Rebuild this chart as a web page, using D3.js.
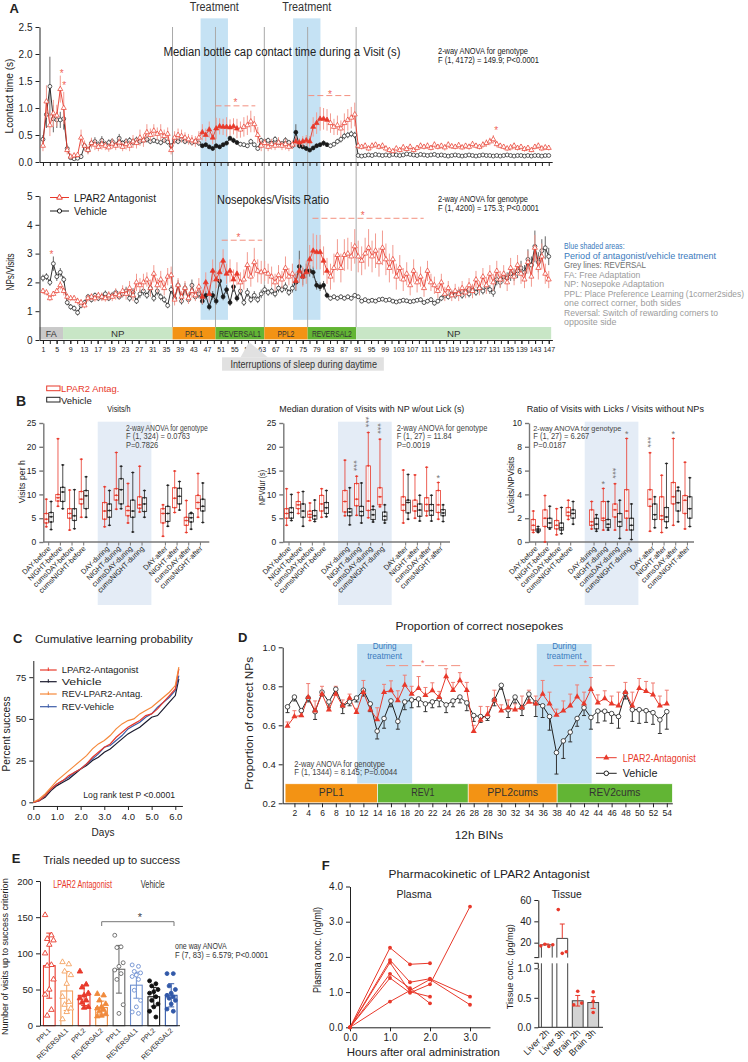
<!DOCTYPE html>
<html><head><meta charset="utf-8">
<script src="https://cdn.jsdelivr.net/npm/d3@7/dist/d3.min.js"></script>
<style>html,body{margin:0;padding:0;background:#fff}svg{display:block}</style>
</head><body>
<script>
// ================= DATA =================
// ---- Panel A ----
const aTickLabels=["1","5","9","13","17","19","23","27","31","35","39","43","47","51","55","59","63","67","71","75","79","83","87","91","95","99","103","107","111","115","119","123","127","131","135","139","143","147"];
const yTicksA1=[0,0.5,1,1.5,2,2.5];
const yTicksA2=[0,1,2,3,4,5];
const treatBands=[[46.5,54.4],[73.2,81.1]];
const filledA=[[46.5,57.5],[73.2,83]];
const reversalLines=[38.4,50.8,64.9,77.4,91.4];
const phaseNames=["FA","NP","PPL1","REVERSAL1","PPL2","REVERSAL2","NP"];
const phaseStart=[0,6.8,38.4,50.8,64.9,77.4,91.4];
const phaseEnd=[6.8,38.4,50.8,64.9,77.4,91.4,147.7];
// contact time (s)
const cR=[0.30,1.12,0.68,0.90,0.86,1.35,1.00,0.22,0.10,0.12,
 0.13,0.45,0.30,0.22,0.35,0.32,0.28,0.33,0.30,0.27,
 0.34,0.30,0.36,0.28,0.33,0.30,0.38,0.35,0.45,0.40,
 0.55,0.50,0.58,0.52,0.55,0.48,0.52,0.22,0.45,0.50,
 0.48,0.45,0.42,0.40,0.38,0.45,0.55,0.50,0.60,0.45,
 0.62,0.66,0.65,0.65,0.64,0.66,0.62,0.60,0.65,0.68,
 0.75,0.70,0.50,0.30,0.35,0.28,0.33,0.30,0.36,0.30,
 0.33,0.28,0.32,0.38,0.36,0.38,0.40,0.38,0.65,0.72,
 0.80,0.80,0.78,0.72,0.65,0.68,0.62,0.72,0.78,0.82,
 0.88,0.30,0.28,0.30,0.25,0.30,0.32,0.28,0.30,0.25,
 0.22,0.20,0.25,0.22,0.27,0.24,0.28,0.22,0.26,0.30,
 0.28,0.30,0.26,0.32,0.28,0.30,0.27,0.32,0.29,0.28,
 0.31,0.27,0.30,0.28,0.33,0.30,0.28,0.32,0.35,0.38,
 0.42,0.33,0.30,0.28,0.25,0.27,0.30,0.26,0.28,0.24,
 0.26,0.22,0.28,0.30,0.25,0.27,0.26];
const cB=[0.42,0.88,1.40,0.80,0.78,0.78,0.80,0.25,0.08,0.06,
 0.07,0.10,0.30,0.22,0.35,0.38,0.32,0.40,0.33,0.36,
 0.38,0.32,0.44,0.35,0.38,0.40,0.36,0.41,0.38,0.40,
 0.42,0.38,0.40,0.38,0.36,0.40,0.37,0.30,0.40,0.38,
 0.42,0.38,0.40,0.36,0.38,0.35,0.30,0.32,0.28,0.25,
 0.30,0.28,0.32,0.35,0.44,0.40,0.36,0.33,0.32,0.30,
 0.38,0.32,0.25,0.40,0.38,0.40,0.35,0.42,0.36,0.34,
 0.40,0.36,0.30,0.55,0.30,0.28,0.25,0.22,0.26,0.30,
 0.32,0.35,0.32,0.30,0.33,0.38,0.42,0.48,0.50,0.52,
 0.50,0.12,0.11,0.12,0.13,0.12,0.14,0.13,0.12,0.13,
 0.12,0.14,0.13,0.12,0.13,0.15,0.14,0.13,0.12,0.14,
 0.13,0.12,0.13,0.14,0.12,0.13,0.12,0.11,0.12,0.13,
 0.12,0.11,0.12,0.13,0.12,0.11,0.12,0.13,0.12,0.12,
 0.11,0.12,0.11,0.12,0.13,0.12,0.11,0.12,0.12,0.11,
 0.12,0.11,0.12,0.12,0.11,0.12,0.12];
const eCR=[0.10,0.30,0.20,0.25,0.20,0.25,0.30,0.08,0.04,0.05,
 0.05,0.15,0.10,0.08,0.10,0.10,0.08,0.10,0.08,0.08,
 0.10,0.08,0.10,0.08,0.10,0.10,0.12,0.10,0.15,0.12,
 0.15,0.12,0.12,0.12,0.15,0.12,0.12,0.08,0.12,0.12,
 0.12,0.10,0.10,0.10,0.10,0.12,0.15,0.12,0.15,0.12,
 0.20,0.15,0.15,0.18,0.15,0.15,0.18,0.15,0.18,0.18,
 0.20,0.15,0.15,0.10,0.08,0.08,0.10,0.08,0.10,0.08,
 0.10,0.08,0.08,0.10,0.08,0.10,0.10,0.10,0.18,0.20,
 0.22,0.20,0.20,0.18,0.15,0.18,0.15,0.18,0.20,0.20,
 0.22,0.06,0.05,0.06,0.05,0.06,0.05,0.05,0.06,0.05,
 0.05,0.04,0.05,0.05,0.06,0.05,0.06,0.05,0.05,0.06,
 0.05,0.06,0.05,0.06,0.05,0.05,0.06,0.06,0.05,0.05,
 0.06,0.05,0.05,0.06,0.06,0.05,0.05,0.06,0.07,0.07,
 0.08,0.06,0.05,0.05,0.05,0.06,0.06,0.05,0.05,0.05,
 0.05,0.04,0.05,0.06,0.05,0.05,0.05];
const eCB=[0.08,0.25,0.55,0.25,0.15,0.15,0.20,0.05,0.02,0.02,
 0.02,0.04,0.08,0.06,0.08,0.08,0.06,0.08,0.06,0.06,
 0.06,0.05,0.08,0.05,0.06,0.06,0.05,0.06,0.05,0.05,
 0.06,0.05,0.05,0.05,0.05,0.05,0.05,0.05,0.06,0.05,
 0.05,0.05,0.05,0.05,0.05,0.05,0.04,0.04,0.04,0.04,
 0.04,0.04,0.04,0.04,0.05,0.05,0.04,0.04,0.04,0.04,
 0.05,0.04,0.04,0.05,0.05,0.05,0.05,0.06,0.05,0.05,
 0.06,0.05,0.05,0.15,0.05,0.04,0.04,0.03,0.04,0.04,
 0.04,0.05,0.04,0.04,0.04,0.05,0.06,0.06,0.06,0.06,
 0.06,0.02,0.02,0.02,0.02,0.02,0.02,0.02,0.02,0.02,
 0.02,0.02,0.02,0.02,0.02,0.03,0.02,0.02,0.02,0.02,
 0.02,0.02,0.02,0.02,0.02,0.02,0.02,0.02,0.02,0.02,
 0.02,0.02,0.02,0.02,0.02,0.02,0.02,0.02,0.02,0.02,
 0.02,0.02,0.02,0.02,0.02,0.02,0.02,0.02,0.02,0.02,
 0.02,0.02,0.02,0.02,0.02,0.02,0.02];
// nosepokes/visits ratio
const nR=[1.70,1.65,1.45,1.60,1.70,1.90,1.70,1.50,1.45,1.45,
 1.35,1.30,1.20,1.45,1.50,1.45,1.55,1.50,1.45,1.55,
 1.50,1.60,1.55,1.70,1.60,1.80,1.55,2.00,1.90,2.00,
 2.10,1.80,2.30,1.90,2.10,1.80,2.20,2.25,1.40,1.90,
 1.50,1.80,1.45,1.70,1.55,1.85,1.50,2.00,1.60,2.40,
 2.10,2.35,2.75,2.30,2.40,2.10,2.30,2.00,2.10,2.60,
 2.20,2.70,2.40,2.35,2.40,2.30,2.20,2.00,2.25,2.10,
 2.50,2.20,2.30,2.05,2.40,2.20,2.35,2.80,3.10,3.05,
 3.05,2.75,2.40,2.20,2.50,2.95,2.50,2.95,3.00,2.90,
 3.25,2.90,2.75,3.00,3.20,2.90,3.10,2.70,3.20,2.80,
 2.50,2.80,2.20,2.50,2.10,2.30,1.90,2.40,2.00,2.20,
 1.80,2.40,2.00,1.90,1.70,2.00,1.60,1.80,1.55,1.70,
 1.60,1.80,1.65,1.90,1.70,2.10,1.80,2.20,1.90,2.30,
 2.00,2.40,2.10,2.30,2.00,2.50,2.20,2.60,2.30,2.10,
 2.70,2.20,3.20,2.50,2.90,2.30,2.10];
const nB=[2.15,2.20,2.00,2.65,2.20,2.35,2.10,1.30,1.15,1.10,
 0.95,1.20,1.30,1.50,1.40,1.55,1.45,1.50,1.60,1.45,
 1.55,1.65,1.50,1.60,1.70,1.45,1.65,1.35,1.60,1.70,
 1.55,1.80,1.45,1.70,1.50,1.40,1.20,1.75,1.45,1.90,
 1.35,1.80,1.40,1.90,1.50,1.60,1.35,1.55,1.15,1.55,
 1.35,2.05,1.50,1.75,1.30,1.85,1.45,1.70,1.30,1.65,
 1.40,1.55,1.40,1.60,1.75,1.65,1.70,1.60,1.80,1.75,
 1.85,1.65,1.80,2.00,2.55,2.20,2.40,2.40,2.35,1.90,
 1.85,1.90,1.55,1.45,1.50,1.45,1.50,1.45,1.50,1.45,
 1.55,1.50,1.35,1.40,1.35,1.38,1.35,1.40,1.42,1.38,
 1.40,1.35,1.32,1.35,1.38,1.36,1.33,1.35,1.38,1.40,
 1.30,1.35,1.40,1.28,1.35,1.45,1.55,1.50,1.60,1.55,
 1.65,1.55,1.70,1.60,1.75,1.65,1.80,1.70,1.85,1.75,
 1.65,2.10,2.00,2.20,2.15,2.30,2.25,2.40,2.50,2.35,
 2.80,2.60,3.25,2.70,3.10,3.20,2.90];
const eNR=[0.10,0.10,0.10,0.10,0.10,0.15,0.15,0.12,0.10,0.10,
 0.12,0.12,0.10,0.12,0.12,0.12,0.12,0.15,0.12,0.15,
 0.15,0.20,0.15,0.20,0.20,0.25,0.20,0.30,0.25,0.30,
 0.25,0.30,0.30,0.25,0.30,0.25,0.30,0.30,0.20,0.25,
 0.20,0.25,0.20,0.25,0.20,0.30,0.25,0.35,0.30,0.40,
 0.30,0.35,0.40,0.35,0.40,0.35,0.40,0.35,0.35,0.45,
 0.35,0.50,0.40,0.40,0.35,0.35,0.35,0.30,0.35,0.30,
 0.40,0.30,0.35,0.30,0.40,0.35,0.40,0.50,0.60,0.60,
 0.60,0.50,0.45,0.45,0.50,0.55,0.50,0.55,0.55,0.50,
 0.60,0.55,0.50,0.55,0.65,0.55,0.60,0.50,0.60,0.55,
 0.50,0.50,0.45,0.45,0.40,0.40,0.35,0.40,0.35,0.35,
 0.30,0.35,0.30,0.30,0.25,0.30,0.25,0.25,0.20,0.25,
 0.25,0.25,0.20,0.25,0.25,0.30,0.25,0.30,0.30,0.30,
 0.30,0.35,0.30,0.30,0.30,0.35,0.30,0.35,0.35,0.30,
 0.40,0.35,0.45,0.40,0.45,0.35,0.30];
const eNB=[0.12,0.12,0.12,0.25,0.15,0.15,0.12,0.10,0.10,0.10,
 0.10,0.10,0.10,0.10,0.10,0.10,0.10,0.12,0.12,0.10,
 0.12,0.12,0.10,0.12,0.15,0.12,0.15,0.10,0.15,0.15,
 0.12,0.20,0.12,0.15,0.12,0.12,0.10,0.15,0.12,0.18,
 0.12,0.18,0.12,0.20,0.12,0.15,0.12,0.15,0.12,0.15,
 0.12,0.20,0.12,0.15,0.12,0.18,0.12,0.15,0.12,0.15,
 0.12,0.15,0.12,0.15,0.15,0.12,0.12,0.12,0.15,0.12,
 0.15,0.12,0.15,0.30,0.55,0.30,0.25,0.20,0.20,0.15,
 0.15,0.15,0.10,0.08,0.08,0.08,0.08,0.08,0.08,0.08,
 0.08,0.08,0.07,0.07,0.07,0.07,0.07,0.07,0.07,0.07,
 0.07,0.07,0.07,0.07,0.07,0.07,0.07,0.07,0.07,0.07,
 0.07,0.07,0.08,0.08,0.08,0.10,0.10,0.10,0.12,0.12,
 0.12,0.12,0.12,0.12,0.15,0.12,0.15,0.12,0.15,0.15,
 0.15,0.20,0.18,0.20,0.20,0.25,0.20,0.25,0.25,0.25,
 0.35,0.30,0.55,0.35,0.40,0.40,0.30];
const sigA1=[[50.8,62.3,1.04],[77.6,90.1,1.23]];
const starsA1=[[56.6,1.14],[83.85,1.30],[6.4,1.68],[7.15,1.46],[131.8,0.63]];
const sigA2=[[52.6,64.3,3.465],[78.8,110.9,4.226]];
const starsA2=[[57.4,3.65],[93.3,4.41],[3.45,3.06]];
const aNotes=["Blue shaded areas:","Period of antagonist/vehicle treatment","Grey lines: REVERSAL","FA: Free Adaptation","NP: Nosepoke Adaptation","PPL: Place Preference Learning (1corner2sides)","one correct corner, both sides","Reversal: Switch of rewarding corners to","opposite side"];

// ---- Panel B ----
const bCats=["DAY-before","NIGHT-before","cumsDAY-before","cumsNIGHT-before","DAY-during","NIGHT-during","cumsDAY-during","cumsNIGHT-during","DAY-after","NIGHT-after","cumsDAY-after","cumsNIGHT-after"];
// [min,q1,median,q3,max]
const visitsRed=[[3.2,4,4.8,6,9],[7.5,8.6,9.3,10,21.7],[2.5,5,6,7,10.9],[5.2,8,9,10.6,17.4],[3.2,4.8,6.5,8.3,11.6],[6.9,8.8,9.8,11.2,18.8],[4,5.5,6.6,7.5,12.3],[6.3,7.1,7.8,9.5,15.9],[1.2,4,6,7,7.8],[6.2,7.2,9.2,11.4,14.9],[2,3.5,4.5,5.2,8.7],[5.2,7,8.3,9.8,14.4]];
const visitsVeh=[[2.6,4.2,5.3,6.2,8.5],[7,8.5,10.5,11.5,16.2],[2.8,4.5,5.5,7,11],[5.2,7,9.7,10.8,13.7],[3.5,5.2,6.6,8,10.8],[7,8,11,13.3,15.9],[2.1,5.2,6.5,8.8,14.6],[5.2,6.4,8,9.3,10.8],[3.3,4.3,6,7.5,11.9],[6.7,8,9.6,11.3,12.7],[2.7,4.2,5.1,6,6.2],[4.1,6.5,7.5,9,12.4]];
const npdurRed=[[3.5,5,6,7,11.2],[6,7,7.8,8.5,10.4],[4.5,5.2,5.8,6.5,8.2],[5.2,6.5,8,9.8,11.2],[5.5,6.3,8.5,10.8,17.2],[5.6,7.6,9,12.3,13.8],[5.1,6.6,8.6,16,23],[7.4,7.8,9.5,11.4,21.6],[4,6.6,7.8,9.5,15.1],[5,6.5,7.5,8.8,14.1],[5.5,6.5,7.9,9.3,15.7],[4.8,6.2,7.8,10.8,12.5]];
const npdurVeh=[[4.5,5,6.2,7.2,10],[3.3,5.2,6.5,8,10.6],[4.3,4.8,5.5,6.6,8.8],[5.3,6,7.2,8.3,10.8],[3.6,5.5,6.3,7,11.4],[4,5.5,6.4,7.5,12.4],[4.2,4.7,5.7,6.8,7.5],[4,4.6,5.4,6.3,7.8],[4.8,6.1,8.3,8.8,14.2],[4.4,5.4,6.7,8,9.8],[4.4,5.6,6.6,7.9,9.8],[4.3,5.5,6.1,6.8,7.8]];
const ratioRed=[[0.8,1,1.4,1.9,2.6],[0,1.3,2,2.7,3.9],[0.6,1.1,1.4,1.8,2.8],[1.9,2.2,2.5,2.9,3.5],[1.1,1.4,1.7,2.7,3.4],[1,1.8,2,3.4,4.5],[1,2.1,2.7,3.2,4.9],[1,2,2.6,4.4,8.7],[0.9,3,3.6,4.4,7.5],[0.8,1.9,2.2,3.8,5.6],[1.4,3.2,3.8,5,8.7],[1.1,2.4,3.5,3.9,6.7]];
const ratioVeh=[[0.8,0.9,1,1.1,1.3],[1.1,1.2,1.6,2,3],[0.7,1,1.2,1.6,2.9],[1.5,2,2.4,2.7,3.4],[0.9,1.1,1.5,2,2.3],[1,1.2,1.5,1.9,3.4],[0.3,1.3,1.7,2.4,3.5],[0.2,1,1.4,2,3.2],[1.2,1.9,2.3,3.2,3.8],[1.2,1.7,2.1,2.9,6.6],[1.7,2.6,3.3,4.3,4.6],[1.3,2,2.8,3.8,5.4]];
const starsB2=[[5,3],[6,3],[7,3],[11,1]];
const starsB3=[[5,1],[6,3],[7,1],[8,3],[10,1]];
const yTicksB25=[0,5,10,15,20,25];
const yTicksB10=[0,2,4,6,8,10];

// ---- Panel C ----
const cDays=[0,0.25,0.5,0.75,1,1.25,1.5,1.75,2,2.25,2.5,2.75,3,3.25,3.5,3.75,4,4.25,4.5,4.75,5,5.25,5.5,5.75,6,6.15];
const cLPAR2=[0,1,4,8,11,13,16,18,20,23,27,30,33,35,39,42,45,47,49,52,53,56,60,64,68,80];
const cVeh=[0,1,3,7,10,12,14,17,20,22,25,27,30,32,35,38,41,43,45,48,51,52,56,60,64,74];
const cRevLPAR2=[0,2,5,9,13,16,19,22,25,28,32,35,37,40,44,47,49,50,53,55,57,60,63,66,70,81];
const cRevVeh=[0,1,4,8,11,13,15,18,20,23,26,29,33,34,37,40,44,46,48,51,53,57,60,63,67,76];
const cLegend=["LPAR2-Antagonist","Vehicle","REV-LPAR2-Antag.","REV-Vehicle"];
const yTicksC=[0,25,50,75];
const xTicksC=[0,1,2,3,4,5,6];

// ---- Panel D ----
const dTickLabels=["2","4","6","8","10","12","14","16","18","20","22","24","26","28","28","30","32","34","36","38","40","42","44","46","48","50","52","54"];
const yTicksD=[0.2,0.4,0.6,0.8,1.0];
const dRed=[0.597,0.645,0.650,0.744,0.675,0.760,0.680,0.760,0.700,0.740,
 0.667,0.770,0.680,0.630,0.770,0.778,0.727,0.807,0.760,0.790,
 0.754,0.778,0.744,0.850,0.780,0.830,0.780,0.570,0.627,0.656,
 0.730,0.675,0.690,0.680,0.690,0.720,0.710,0.760,0.710,0.653,
 0.675,0.700,0.747,0.710,0.785,0.716,0.737,0.710,0.700,0.770,
 0.700,0.790,0.775,0.757,0.700,0.710];
const dVeh=[0.695,0.745,0.675,0.740,0.670,0.770,0.720,0.785,0.700,0.720,
 0.740,0.780,0.710,0.570,0.635,0.725,0.620,0.720,0.730,0.735,
 0.710,0.720,0.735,0.705,0.725,0.745,0.715,0.650,0.645,0.645,
 0.730,0.805,0.680,0.745,0.690,0.760,0.715,0.700,0.645,0.460,
 0.520,0.565,0.635,0.690,0.640,0.673,0.672,0.660,0.645,0.765,
 0.680,0.680,0.675,0.665,0.628,0.670];
const dRedE=[0.02,0.03,0.03,0.07,0.05,0.04,0.02,0.04,0.03,0.02,
 0.02,0.06,0.03,0.06,0.04,0.05,0.05,0.05,0.04,0.06,
 0.04,0.04,0.03,0.04,0.04,0.04,0.04,0.03,0.07,0.04,
 0.05,0.03,0.04,0.03,0.06,0.06,0.04,0.07,0.06,0.03,
 0.05,0.06,0.06,0.06,0.06,0.04,0.04,0.04,0.07,0.05,
 0.07,0.05,0.05,0.06,0.05,0.07];
const dVehE=[0.03,0.02,0.03,0.02,0.04,0.02,0.03,0.02,0.04,0.02,
 0.02,0.03,0.04,0.04,0.05,0.03,0.04,0.04,0.04,0.04,
 0.04,0.03,0.04,0.04,0.03,0.03,0.04,0.03,0.03,0.02,
 0.03,0.02,0.04,0.03,0.04,0.03,0.07,0.06,0.07,0.11,
 0.09,0.05,0.04,0.04,0.06,0.06,0.05,0.05,0.06,0.03,
 0.06,0.07,0.06,0.06,0.07,0.09];
const dPhaseNames=["PPL1","REV1","PPL2cums","REV2cums"];
const dPhaseStart=[0.65,14.05,27.2,40.1];
const dPhaseEnd=[14.05,27.2,40.1,56.8];
const dBands=[[11.1,19.07],[37.15,45.1]];
const sigD=[[15.3,26.1,0.906],[39.6,48.5,0.906]];
const starsD=[[20.6,0.93],[44.2,0.93]];

// ---- Panel E ----
const eNames=["PPL1","REVERSAL1","PPL2","REVERSAL2","PPL1","REVERSAL1","PPL2","REVERSAL2"];
const eMeans=[83,48,42,25,78,56,40,42];
const eSD=[45,27,14,9,33,18,13,16];
const ePts=[[153,125,120,118,112,100,84,83,64,50,43,22,14],
 [88,85,75,70,58,40,33,29,24,19,9],
 [75,57,53,45,42,38,35,32,26,25],
 [44,42,35,30,26,24,22,20,16,14,13],
 [125,109,108,87,82,77,72,64,29,17],
 [84,82,75,73,70,68,64,49,35,26,19,17],
 [62,58,55,50,47,45,40,35,30,26,20,12],
 [72,72,55,50,45,42,40,38,35,30,23,20]];
const yTicksE=[0,50,100,150,200];

// ---- Panel F ----
const pkAnimals=[
 [[0,0],[1,2.26],[1.5,1.79],[2,1.82]],
 [[0,0],[1,1.91],[1.5,1.28],[2,1.38],[3,0.87]],
 [[0,0],[1,1.84],[1.5,1.01],[2,0.87]],
 [[0,0],[1,1.52],[1.5,1.11],[2,0.68]],
 [[0,0],[1,1.40],[1.5,0.98],[2,1.22],[3,3.43]],
 [[0,0],[1,0.73],[2,1.36],[3,0.64]]];
const tissueNames=["Liver 2h","Liver 3h","Brain 2h","Brain 3h"];
const tissueMean=[18,24,0.45,0.42];
const tissueErr=[0.8,13.5,0.09,0.1];
const tissuePts=[[17,18.5,16.5,18],[51,10,11.5],[0.38,0.61,0.41],[0.6,0.44,0.25]];
const yTicksF=[0,1,2,3,4];
const xTicksF=[0,1,2,3];

// ================= DRAW =================
const svg=d3.select("body").append("svg").attr("width",748).attr("height",1062);
const SANS='"Liberation Sans", Arial, Helvetica, sans-serif';
const NAR='"Liberation Sans Narrow","Arial Narrow","Liberation Sans",sans-serif';
const RED="#e8392b", REDL="#f29b91", BLK="#1a1a1a";
function T(x,y,s,o){o=o||{};const t=svg.append("text").attr("x",x).attr("y",y).text(s)
 .attr("font-family",o.f||SANS).attr("font-size",o.s||10).attr("fill",o.c||"#222").attr("text-anchor",o.a||"start");
 if(o.b)t.attr("font-weight","bold");
 if(o.w)t.attr("textLength",o.w).attr("lengthAdjust","spacingAndGlyphs");
 if(o.r!=null)t.attr("transform",`rotate(${o.r},${x},${y})`);return t;}
function styleAx(g,o){o=o||{};g.select(".domain").attr("stroke",o.c||"#222").attr("stroke-width",o.sw||1);
 g.selectAll(".tick line").attr("stroke",o.c||"#222").attr("stroke-width",o.sw||1);
 g.selectAll(".tick text").attr("font-family",o.f||SANS).attr("font-size",o.s||9.5).attr("fill","#222");return g;}
function star(x,y,size,col){T(x,y+size*0.57,"*",{a:"middle",s:size,c:col});}
function starStack(x,yc,size,col,n){
 if(n===1){star(x,yc,size,col);return;}
 T(x-size*0.57,yc,"*".repeat(n),{a:"middle",s:size,c:col,r:90,w:n*3.6});}

// ---------- PANEL A ----------
const xA=d3.scaleLinear().domain([0,148]).range([39.5,552.2]);
const yA1=d3.scaleLinear().domain([0,2.5]).range([162,27]);
const yA2=d3.scaleLinear().domain([0,5]).range([340,196]);
const gA=svg.append("g");
treatBands.forEach(b=>gA.append("rect").attr("x",xA(b[0])).attr("y",yA1(2.66)).attr("width",xA(b[1])-xA(b[0])).attr("height",yA2(0.7)-yA1(2.66)).attr("fill","#c5e2f4"));
reversalLines.forEach(v=>gA.append("line").attr("x1",xA(v)).attr("x2",xA(v)).attr("y1",yA1(2.5)).attr("y2",yA2(0.45)).attr("stroke","#a9a9a9").attr("stroke-width",1));
T(9.5,13.3,"A",{b:1,s:13});
treatBands.forEach(b=>T(xA((b[0]+b[1])/2),10.5,"Treatment",{a:"middle",f:NAR,s:12.5,w:49,c:"#333"}));
const phaseFill={FA:"#c9c9c9",NP:"#c8e6c6",PPL:"#f39314",REV:"#62b534"};
const phaseW={FA:11,NP:13.5,PPL1:18,REVERSAL1:42,PPL2:17,REVERSAL2:40};
phaseNames.forEach((n,k)=>{const key=n.startsWith("PPL")?"PPL":n.startsWith("REV")?"REV":n;
 gA.append("rect").attr("x",xA(phaseStart[k])).attr("width",xA(phaseEnd[k])-xA(phaseStart[k])).attr("y",yA2(0.45)).attr("height",yA2(0.02)-yA2(0.45)).attr("fill",phaseFill[key]);
 T((xA(phaseStart[k])+xA(phaseEnd[k]))/2,yA2(0.1),n,{a:"middle",f:NAR,s:9,c:"#333",w:phaseW[n]});});
const majA=aTickLabels.map((_,k)=>1+k*146/37);
const minA=d3.range(75).map(k=>1+k*146/74);
styleAx(gA.append("g").attr("transform",`translate(0,${yA1(0)})`).call(d3.axisBottom(xA).tickValues(minA).tickFormat("").tickSize(4).tickSizeOuter(0)));
styleAx(gA.append("g").attr("transform",`translate(0,${yA2(0)})`).call(d3.axisBottom(xA).tickValues(minA).tickFormat("").tickSize(4).tickSizeOuter(0)));
styleAx(gA.append("g").attr("transform",`translate(0,${yA2(0)})`).call(d3.axisBottom(xA).tickValues(majA).tickFormat((d,i)=>aTickLabels[i]).tickSize(4).tickSizeOuter(0)),{f:NAR,s:7});
styleAx(gA.append("g").attr("transform",`translate(${xA(0)},0)`).call(d3.axisLeft(yA1).tickValues(yTicksA1).tickFormat(d3.format(".1f")).tickSize(4).tickSizeOuter(0)),{f:NAR,s:10});
styleAx(gA.append("g").attr("transform",`translate(${xA(0)},0)`).call(d3.axisLeft(yA2).tickValues(yTicksA2).tickFormat(d3.format("d")).tickSize(4).tickSizeOuter(0)),{f:NAR,s:10});
T(13,96,"Lcontact time (s)",{a:"middle",s:10.5,r:-90,w:75});
T(14,272,"NPs/Visits",{a:"middle",s:10.5,r:-90,w:37});
const isFilled=i=>filledA.some(r=>i>=r[0]&&i<=r[1]);
function drawSeries(x,y,vals,errs,col,ecol,tri){
 const g=svg.append("g");
 g.selectAll("line").data(vals).join("line").attr("x1",(d,i)=>x(i+1)).attr("x2",(d,i)=>x(i+1))
  .attr("y1",(d,i)=>y(Math.max(0,d-errs[i]))).attr("y2",(d,i)=>y(d+errs[i])).attr("stroke",ecol).attr("stroke-width",1);
 g.append("path").datum(vals).attr("d",d3.line().x((d,i)=>x(i+1)).y(d=>y(d))).attr("fill","none").attr("stroke",col).attr("stroke-width",0.9);
 const sym=d3.symbol().type(tri?d3.symbolTriangle:d3.symbolCircle).size(tri?11:12);
 g.append("g").selectAll("path").data(vals).join("path").attr("transform",(d,i)=>`translate(${x(i+1)},${y(d)})`).attr("d",sym)
  .attr("fill",(d,i)=>isFilled(i+1)?col:"#fff").attr("stroke",col).attr("stroke-width",0.7);
}
drawSeries(xA,yA1,cB,eCB,BLK,"#666",false);
drawSeries(xA,yA1,cR,eCR,RED,REDL,true);
drawSeries(xA,yA2,nB,eNB,BLK,"#666",false);
drawSeries(xA,yA2,nR,eNR,RED,REDL,true);
const SIGC="#f3907f";
sigA1.forEach(s=>gA.append("line").attr("x1",xA(s[0])).attr("x2",xA(s[1])).attr("y1",yA1(s[2])).attr("y2",yA1(s[2])).attr("stroke",SIGC).attr("stroke-dasharray","6,3"));
sigA2.forEach(s=>gA.append("line").attr("x1",xA(s[0])).attr("x2",xA(s[1])).attr("y1",yA2(s[2])).attr("y2",yA2(s[2])).attr("stroke",SIGC).attr("stroke-dasharray","6,3"));
starsA1.forEach(s=>star(xA(s[0]),yA1(s[1]),10,"#f0665a"));
starsA2.forEach(s=>star(xA(s[0]),yA2(s[1]),10,"#f0665a"));
T(282,55.5,"Median bottle cap contact time during a Visit (s)",{a:"middle",f:NAR,s:12.5,w:237});
T(438,53.5,"2-way ANOVA for genotype",{f:NAR,s:9,w:90});
T(438,63,"F (1, 4172) = 149.9; P<0.0001",{f:NAR,s:9,w:101});
T(273,203.5,"Nosepokes/Visits Ratio",{a:"middle",f:NAR,s:12.5,w:112});
T(438,202,"2-way ANOVA for genotype",{f:NAR,s:9,w:90});
T(438,210.5,"F (1, 4200) = 175.3; P<0.0001",{f:NAR,s:9,w:101});
[[197.5,RED,true,"LPAR2 Antagonist",82],[211,BLK,false,"Vehicle",33]].forEach(l=>{
 svg.append("line").attr("x1",50).attr("x2",69).attr("y1",l[0]).attr("y2",l[0]).attr("stroke",l[1]);
 svg.append("path").attr("transform",`translate(59.5,${l[0]})`).attr("d",d3.symbol().type(l[2]?d3.symbolTriangle:d3.symbolCircle).size(14)()).attr("fill","#fff").attr("stroke",l[1]);
 T(74,l[0]+4,l[3],{f:NAR,s:11.5,w:l[4],c:"#222"});});
const noteW=[60.6,152,82,76.3,100,180,117,154,52.5];
aNotes.forEach((s,k)=>T(564,249+k*9.5,s,{f:NAR,s:8.2,w:noteW[k],c:k<2?"#3a7abd":(k===2?"#6e6e6e":"#9b9b9b")}));
svg.append("path").attr("d",`M${xA(60.5)},${yA2(0)+2} L${xA(66)},${357.5} L${xA(58)},${357.5} Z`).attr("fill","#e1e1e1");
svg.append("rect").attr("x",xA(52.7)).attr("y",357.3).attr("width",xA(99.4)-xA(52.7)).attr("height",13.4).attr("fill","#e1e1e1");
T(303.7,367.5,"Interruptions of sleep during daytime",{a:"middle",f:NAR,s:10.5,w:146.5,c:"#333"});

// ---------- PANEL B ----------
T(16,406,"B",{b:1,s:14});
svg.append("rect").attr("x",46.7).attr("y",386).attr("width",13.3).attr("height",4.7).attr("fill","none").attr("stroke",RED).attr("stroke-width",1);
T(61,392,"LPAR2 Antag.",{s:9.5,c:RED,w:58.3});
svg.append("rect").attr("x",46.7).attr("y",397.3).attr("width",13.3).attr("height",4.7).attr("fill","none").attr("stroke","#222").attr("stroke-width",1);
T(61,403.5,"Vehicle",{s:9.5,c:"#222",w:30.7});
const bSlots=[0,1,2,3,5,6,7,8,10,11,12,13];
function boxPanel(o){
 const xs=d3.scaleLinear().domain([0,13]).range([o.x0,o.x0+13*11.67]);
 const ys=d3.scaleLinear().domain([0,o.max]).range([542,423]);
 const g=svg.append("g");
 g.append("rect").attr("x",xs(4.2)).attr("y",421.7).attr("width",xs(8.8)-xs(4.2)).attr("height",183.3).attr("fill","#e4ecf6");
 styleAx(g.append("g").attr("transform",`translate(${o.ax},0)`).call(d3.axisLeft(ys).tickValues(o.ticks).tickSize(4).tickSizeOuter(0)),{c:"#777",sw:1.4,s:8.5});
 g.append("line").attr("x1",o.ax).attr("x2",o.axEnd).attr("y1",542).attr("y2",542).attr("stroke","#777").attr("stroke-width",1.4);
 bCats.forEach((c,k)=>{const sx=xs(bSlots[k]);
  g.append("line").attr("x1",sx).attr("x2",sx).attr("y1",542).attr("y2",545.5).attr("stroke","#777");
  T(sx+2.5,549,c,{a:"end",s:7.3,r:-45});});
 const box=(st,cx,col)=>{const bw=4.4;
  g.append("line").attr("x1",cx).attr("x2",cx).attr("y1",ys(st[0])).attr("y2",ys(st[4])).attr("stroke",col).attr("stroke-width",0.8);
  [st[0],st[4]].forEach(v=>g.append("line").attr("x1",cx-1.6).attr("x2",cx+1.6).attr("y1",ys(v)).attr("y2",ys(v)).attr("stroke",col).attr("stroke-width",0.8));
  g.append("rect").attr("x",cx-bw/2).attr("y",ys(st[3])).attr("width",bw).attr("height",ys(st[1])-ys(st[3])).attr("fill","#fff").attr("fill-opacity",0.7).attr("stroke",col).attr("stroke-width",0.8);
  g.append("line").attr("x1",cx-bw/2).attr("x2",cx+bw/2).attr("y1",ys(st[2])).attr("y2",ys(st[2])).attr("stroke",col).attr("stroke-width",0.9);
  st.forEach(v=>g.append("circle").attr("cx",cx).attr("cy",ys(v)).attr("r",1).attr("fill",col));};
 o.red.forEach((st,k)=>box(st,xs(bSlots[k])-2.4,RED));
 o.veh.forEach((st,k)=>box(st,xs(bSlots[k])+2.4,"#222"));
 (o.stars||[]).forEach(s=>{const cx=xs(bSlots[s[0]])-2.4;const y0=ys(o.red[s[0]][4])-7;
  starStack(cx,y0-(s[1]-1)*1.8,9,"#777",s[1]);});
 T(o.tx,411.5,o.title,{a:"middle",s:9,w:o.tw});
 T(o.ylx,o.yly,o.ylab,{a:"middle",s:8.5,r:-90,w:o.ylw});
 o.anova.forEach((s,k)=>T(o.ax2,431+k*8.3,s,{s:o.as[k],c:"#444",w:o.aw[k]}));
}
boxPanel({x0:48.7,max:25,ax:43.3,axEnd:209.3,ticks:yTicksB25,red:visitsRed,veh:visitsVeh,title:"Visits/h",tx:119,tw:23.3,
 ylab:"Visits per h",ylx:25,yly:481.7,ylw:43.3,ax2:126,anova:["2-way ANOVA for genotype","F (1, 324) = 0.0763","P=0.7826"],aw:[81.7,64,32.3],as:[8.5,8.5,8.5]});
boxPanel({x0:289,max:25,ax:283.3,axEnd:450,ticks:yTicksB25,red:npdurRed,veh:npdurVeh,stars:starsB2,title:"Median duration of Visits with NP w/out Lick (s)",tx:371.8,tw:185,
 ylab:"NPVdur (s)",ylx:265,yly:487.5,ylw:35,ax2:396.7,anova:["2-way ANOVA for genotype","F (1, 27) = 11.84","P=0.0019"],aw:[90.7,55,33.3],as:[8.5,8.5,8.5]});
boxPanel({x0:535.7,max:10,ax:529,axEnd:694,ticks:yTicksB10,red:ratioRed,veh:ratioVeh,stars:starsB3,title:"Ratio of Visits with Licks / Visits without NPs",tx:615.3,tw:177.3,
 ylab:"LVisits/NPVisits",ylx:514,yly:485,ylw:56.7,ax2:533.3,anova:["2-way ANOVA for genotype","F (1, 27) = 6.267","P=0.0187"],aw:[88,56,32.7],as:[7.2,8.5,8.5]});

// ---------- PANEL C ----------
T(13,642.7,"C",{b:1,s:13});
T(35,642.5,"Cumulative learning probability",{s:10.5,w:157.7});
const xC=d3.scaleLinear().domain([0,6.3]).range([33.3,182.4]);
const yC=d3.scaleLinear().domain([0,85]).range([802.3,660.5]);
styleAx(svg.append("g").attr("transform",`translate(${xC(0)},0)`).call(d3.axisLeft(yC).tickValues(yTicksC).tickSize(4).tickSizeOuter(0)),{s:9.5});
styleAx(svg.append("g").attr("transform",`translate(0,${yC(-2.2)})`).call(d3.axisBottom(xC).tickValues(xTicksC).tickSize(4).tickSizeOuter(0)),{s:9.5});
const cCols=[RED,"#1b1b2e","#f5883a","#3d5da8"];
const cSeries=[cLPAR2,cVeh,cRevLPAR2,cRevVeh];
[1,3,0,2].forEach(k=>svg.append("path").datum(cSeries[k]).attr("d",d3.line().x((d,i)=>xC(cDays[i])).y(d=>yC(d))).attr("fill","none").attr("stroke",cCols[k]).attr("stroke-width",1.2));
const cLegY=[670,681.7,694,706.7], cLegW=[76.7,40,81,52.3];
cLegend.forEach((s,k)=>{svg.append("line").attr("x1",40).attr("x2",56.7).attr("y1",cLegY[k]).attr("y2",cLegY[k]).attr("stroke",cCols[k]).attr("stroke-width",1.2);
 svg.append("line").attr("x1",48.3).attr("x2",48.3).attr("y1",cLegY[k]-2.5).attr("y2",cLegY[k]+1).attr("stroke",cCols[k]);
 T(61.7,cLegY[k]+3.3,s,{s:9.5,w:cLegW[k]});});
T(175,797.5,"Log rank test P <0.0001",{a:"end",s:8.5,w:91.7});
T(10,734,"Percent success",{a:"middle",s:10,r:-90,w:75});
T(103,836,"Days",{a:"middle",s:10});

// ---------- PANEL D ----------
T(238,641.7,"D",{b:1,s:13});
T(479.3,629.5,"Proportion of correct nosepokes",{a:"middle",s:10.5,w:167.7});
const xD=d3.scaleLinear().domain([0.3,56.8]).range([282.7,672.3]);
const yD=d3.scaleLinear().domain([0.2,1.0]).range([803.3,647.3]);
dBands.forEach(b=>svg.append("rect").attr("x",xD(b[0])).attr("y",yD(1.017)).attr("width",xD(b[1])-xD(b[0])).attr("height",yD(0.3)-yD(1.017)).attr("fill","#c5e2f4"));
dBands.forEach(b=>{const cx=xD((b[0]+b[1])/2);T(cx,648.5,"During",{a:"middle",f:NAR,s:8.5,c:"#3a7abd",w:24});T(cx,658.5,"treatment",{a:"middle",f:NAR,s:8.5,c:"#3a7abd",w:35});});
const dPhCol=["#f39314","#62b534","#f39314","#62b534"], dPhW=[25,23.3,50.7,51.3];
dPhaseNames.forEach((n,k)=>{svg.append("rect").attr("x",xD(dPhaseStart[k])).attr("y",yD(0.3)).attr("width",xD(dPhaseEnd[k])-xD(dPhaseStart[k])).attr("height",yD(0.2)-yD(0.3)-0.5).attr("fill",dPhCol[k]).attr("stroke","#fff").attr("stroke-width",0.6);
 T((xD(dPhaseStart[k])+xD(dPhaseEnd[k]))/2,796,n,{a:"middle",f:NAR,s:10.5,c:"#333",w:dPhW[k]});});
styleAx(svg.append("g").attr("transform",`translate(${xD(0.3)},0)`).call(d3.axisLeft(yD).tickValues(yTicksD).tickFormat(d3.format(".1f")).tickSize(4).tickSizeOuter(0)),{s:9.5});
styleAx(svg.append("g").attr("transform",`translate(0,${yD(0.2)})`).call(d3.axisBottom(xD).tickValues(dTickLabels.map((_,k)=>2+2*k)).tickFormat((d,i)=>dTickLabels[i]).tickSize(4).tickSizeOuter(0)),{f:NAR,s:8.5});
T(479,839,"12h BINs",{a:"middle",s:10.5,w:48.3});
T(253,723.3,"Proportion of correct NPs",{a:"middle",s:10.5,r:-90,w:133});
const gD=svg.append("g");
dRed.forEach((v,i)=>{const x=xD(i+1);gD.append("line").attr("x1",x).attr("x2",x).attr("y1",yD(v)).attr("y2",yD(v+dRedE[i])).attr("stroke","#f07c72");
 gD.append("line").attr("x1",x-2).attr("x2",x+2).attr("y1",yD(v+dRedE[i])).attr("y2",yD(v+dRedE[i])).attr("stroke","#f07c72");});
dVeh.forEach((v,i)=>{const x=xD(i+1);gD.append("line").attr("x1",x).attr("x2",x).attr("y1",yD(v)).attr("y2",yD(v-dVehE[i])).attr("stroke","#333");
 gD.append("line").attr("x1",x-2).attr("x2",x+2).attr("y1",yD(v-dVehE[i])).attr("y2",yD(v-dVehE[i])).attr("stroke","#333");});
gD.append("path").datum(dVeh).attr("d",d3.line().x((d,i)=>xD(i+1)).y(d=>yD(d))).attr("fill","none").attr("stroke","#222").attr("stroke-width",1);
gD.append("path").datum(dRed).attr("d",d3.line().x((d,i)=>xD(i+1)).y(d=>yD(d))).attr("fill","none").attr("stroke",RED).attr("stroke-width",1);
gD.selectAll(".vc").data(dVeh).join("circle").attr("cx",(d,i)=>xD(i+1)).attr("cy",d=>yD(d)).attr("r",2.3).attr("fill","#fff").attr("stroke","#222").attr("stroke-width",0.8);
gD.selectAll(".rt").data(dRed).join("path").attr("transform",(d,i)=>`translate(${xD(i+1)},${yD(d)})`).attr("d",d3.symbol().type(d3.symbolTriangle).size(16)()).attr("fill",RED);
sigD.forEach(s=>svg.append("line").attr("x1",xD(s[0])).attr("x2",xD(s[1])).attr("y1",yD(s[2])).attr("y2",yD(s[2])).attr("stroke","#f3907f").attr("stroke-dasharray","9,4"));
starsD.forEach(s=>star(xD(s[0]),yD(s[1]),9,"#f0665a"));
T(294.3,766.5,"2-way ANOVA for genotype",{f:NAR,s:9,w:90.7,c:"#444"});
T(294.3,775,"F (1, 1344) = 8.145; P=0.0044",{f:NAR,s:9,w:103,c:"#444"});
svg.append("line").attr("x1",596).attr("x2",616.7).attr("y1",757.7).attr("y2",757.7).attr("stroke",RED);
svg.append("path").attr("transform","translate(606.3,757.7)").attr("d",d3.symbol().type(d3.symbolTriangle).size(16)()).attr("fill",RED);
T(622.7,761.5,"LPAR2-Antagonist",{s:10,c:RED,w:73});
svg.append("line").attr("x1",596).attr("x2",616.7).attr("y1",773.3).attr("y2",773.3).attr("stroke","#222");
svg.append("circle").attr("cx",606.3).attr("cy",773.3).attr("r",2.3).attr("fill","#fff").attr("stroke","#222");
T(622.7,777.3,"Vehicle",{s:11,c:"#222",w:34.7});

// ---------- PANEL E ----------
T(11.7,863.3,"E",{b:1,s:13});
T(43.3,864,"Trials needed up to success",{s:10.5,w:136.7});
const xE=d3.scaleBand().domain(d3.range(8)).range([40.5,180]).paddingInner(0.33).paddingOuter(0.17);
const yE=d3.scaleLinear().domain([0,200]).range([1025.7,881]);
const eCol=[RED,"#f4a261",RED,"#f08a3c","#666","#6d8fd0","#111","#3158a8"];
eMeans.forEach((m,k)=>{const x=xE(k),bw=xE.bandwidth(),cx=x+bw/2;
 svg.append("rect").attr("x",x).attr("y",yE(m)).attr("width",bw).attr("height",yE(0)-yE(m)).attr("fill","#fff").attr("stroke",eCol[k]).attr("stroke-width",1.1);
 svg.append("line").attr("x1",cx).attr("x2",cx).attr("y1",yE(m-eSD[k])).attr("y2",yE(m+eSD[k])).attr("stroke",eCol[k]).attr("stroke-width",1);
 [m-eSD[k],m+eSD[k]].forEach(v=>svg.append("line").attr("x1",cx-3).attr("x2",cx+3).attr("y1",yE(v)).attr("y2",yE(v)).attr("stroke",eCol[k]).attr("stroke-width",1));
 const tri=k<4, filled=(k%4)>=2;
 ePts[k].forEach((v,j)=>{const dx=((j*3)%5-2)*2.1;
  svg.append("path").attr("transform",`translate(${cx+dx},${yE(v)})`).attr("d",d3.symbol().type(tri?d3.symbolTriangle:d3.symbolCircle).size(tri?13:12)())
   .attr("fill",filled?eCol[k]:"#fff").attr("stroke",eCol[k]).attr("stroke-width",0.9);});
 T(cx+2,1031,eNames[k],{a:"end",f:NAR,s:7,r:-45});});
styleAx(svg.append("g").attr("transform","translate(40,0)").call(d3.axisLeft(yE).tickValues(yTicksE).tickSize(4).tickSizeOuter(0)),{s:9.5});
svg.append("line").attr("x1",40).attr("x2",180).attr("y1",yE(0)).attr("y2",yE(0)).attr("stroke","#222");
T(8.5,956.7,"Number of visits up to success criterion",{a:"middle",s:9.5,r:-90,w:156.7});
T(53.3,888,"LPAR2 Antagonist",{f:NAR,s:10.5,c:RED,w:58.7});
T(140.7,888,"Vehicle",{f:NAR,s:10.5,c:"#333",w:24});
svg.append("path").attr("d","M101.7,926 L101.7,921.7 L174,921.7 L174,926").attr("fill","none").attr("stroke","#777");
star(140,915,11,"#444");
T(175,949,"one way ANOVA",{f:NAR,s:9,w:51.7,c:"#333"});
T(175,957.5,"F (7, 83) = 6.579; P<0.0001",{f:NAR,s:9,w:93.3,c:"#333"});

// ---------- PANEL F ----------
T(321.7,870,"F",{b:1,s:13});
T(489,878,"Pharmacokinetic of LPAR2 Antagonist",{a:"middle",s:11,w:201});
const xF=d3.scaleLinear().domain([0,3.5]).range([350,490]);
const yF=d3.scaleLinear().domain([0,4]).range([1027.3,886.5]);
styleAx(svg.append("g").attr("transform","translate(350,0)").call(d3.axisLeft(yF).tickValues(yTicksF).tickSize(4).tickSizeOuter(0)),{s:10});
styleAx(svg.append("g").attr("transform",`translate(0,${yF(0)})`).call(d3.axisBottom(xF).tickValues(xTicksF).tickSize(4).tickSizeOuter(0)),{s:10});
pkAnimals.forEach(a=>{svg.append("path").datum(a).attr("d",d3.line().x(d=>xF(d[0])).y(d=>yF(d[1]))).attr("fill","none").attr("stroke",RED).attr("stroke-width",1);
 a.forEach(d=>svg.append("circle").attr("cx",xF(d[0])).attr("cy",yF(d[1])).attr("r",1.9).attr("fill",RED));});
T(414,898,"Plasma",{a:"middle",s:10,w:35});
T(321,950,"Plasma conc. (ng/ml)",{a:"middle",s:10,r:-90,w:86});
T(423.3,1056,"Hours after oral administration",{a:"middle",s:11.5,w:153.3});
const xT=d3.scaleBand().domain(d3.range(4)).range([538.3,601.7]).paddingInner(0.3).paddingOuter(0.2);
const yTu=d3.scaleLinear().domain([6,60]).range([957.6,900]);
const yTl=d3.scaleLinear().domain([0,1]).range([1027.3,968.3]);
styleAx(svg.append("g").attr("transform","translate(538.3,0)").call(d3.axisLeft(yTu).tickValues([20,40,60]).tickSize(4).tickSizeOuter(0)),{s:10});
styleAx(svg.append("g").attr("transform","translate(538.3,0)").call(d3.axisLeft(yTl).tickValues([0,0.5,1]).tickFormat(d3.format(".1f")).tickSize(4).tickSizeOuter(0)),{s:10});
[yTu(6),yTl(1)-5].forEach(y=>svg.append("line").attr("x1",534.3).attr("x2",538.3).attr("y1",y).attr("y2",y).attr("stroke","#222"));
svg.append("line").attr("x1",538.3).attr("x2",538.3).attr("y1",yTl(1)).attr("y2",yTl(1)-5).attr("stroke","#222");
svg.append("line").attr("x1",538.3).attr("x2",603).attr("y1",yTl(0)).attr("y2",yTl(0)).attr("stroke","#222");
tissueMean.forEach((m,k)=>{const x=xT(k),bw=xT.bandwidth(),cx=x+bw/2;
 if(m>1){
  svg.append("path").attr("d",`M${x},${yTu(6)} L${x},${yTu(m)} L${x+bw},${yTu(m)} L${x+bw},${yTu(6)}`).attr("fill","#fff").attr("stroke","#444").attr("stroke-width",1);
  svg.append("path").attr("d",`M${x},${yTl(1)-5} L${x},${yTl(0)} M${x+bw},${yTl(1)-5} L${x+bw},${yTl(0)}`).attr("stroke","#444").attr("stroke-width",1);
  svg.append("line").attr("x1",cx).attr("x2",cx).attr("y1",yTu(m)).attr("y2",yTu(m+tissueErr[k])).attr("stroke",RED);
  svg.append("line").attr("x1",cx-2.5).attr("x2",cx+2.5).attr("y1",yTu(m+tissueErr[k])).attr("y2",yTu(m+tissueErr[k])).attr("stroke",RED);
  tissuePts[k].forEach((v,j)=>svg.append("circle").attr("cx",cx+(j-(tissuePts[k].length-1)/2)*4).attr("cy",yTu(v)).attr("r",1.8).attr("fill",RED));
 } else {
  svg.append("rect").attr("x",x).attr("y",yTl(m)).attr("width",bw).attr("height",yTl(0)-yTl(m)).attr("fill","#d3d3d3").attr("stroke","#444");
  svg.append("line").attr("x1",cx).attr("x2",cx).attr("y1",yTl(m-tissueErr[k])).attr("y2",yTl(m+tissueErr[k])).attr("stroke",RED);
  [m-tissueErr[k],m+tissueErr[k]].forEach(v=>svg.append("line").attr("x1",cx-2.5).attr("x2",cx+2.5).attr("y1",yTl(v)).attr("y2",yTl(v)).attr("stroke",RED));
  tissuePts[k].forEach((v,j)=>svg.append("circle").attr("cx",cx+(k===2?(j-1)*4:0)).attr("cy",yTl(v)).attr("r",1.8).attr("fill",RED));
 }
 T(cx+3,1033,tissueNames[k],{a:"end",s:9,r:-45});});
T(566.7,898,"Tissue",{a:"middle",s:10,w:30});
T(513.3,966.7,"Tissue conc. (pg/mg)",{a:"middle",s:9.5,r:-90,w:85});
</script></body></html>
